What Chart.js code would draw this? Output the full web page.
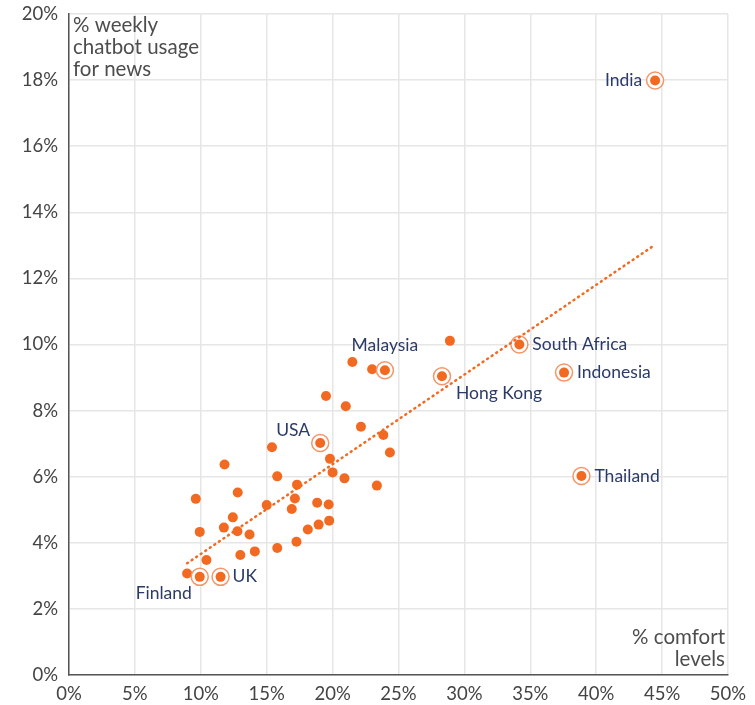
<!DOCTYPE html>
<html>
<head>
<meta charset="utf-8">
<script src="https://cdn.jsdelivr.net/npm/chart.js@4"></script>
<style>
  html, body { margin: 0; padding: 0; background: #fff; }
  #wrap { width: 755px; height: 705px; }
</style>
</head>
<body>
<div id="wrap"><canvas id="myChart"></canvas></div>
<script>
// comfort levels (x) vs weekly chatbot usage for news (y), in %
var otherX = [28.9, 23.0, 21.5, 19.5, 21.0, 22.15, 15.4, 23.85, 24.35, 19.8, 11.8, 20.0, 20.9, 15.8, 17.3, 23.36,
              9.62, 12.8, 17.14, 15.0, 18.83, 19.7, 16.9, 12.43, 9.92, 11.75, 12.78, 13.7, 19.74, 18.94, 18.12,
              17.26, 15.8, 14.1, 13.0, 10.43, 8.96];
var otherY = [10.11, 9.25, 9.47, 8.44, 8.13, 7.51, 6.89, 7.26, 6.73, 6.54, 6.37, 6.13, 5.95, 6.01, 5.76, 5.73,
              5.33, 5.52, 5.34, 5.14, 5.21, 5.16, 5.02, 4.77, 4.33, 4.46, 4.35, 4.25, 4.67, 4.55, 4.40,
              4.03, 3.84, 3.74, 3.63, 3.48, 3.07];

var countries = ["India", "Malaysia", "South Africa", "Indonesia", "Hong Kong", "Thailand", "USA", "UK", "Finland"];
var countryX  = [44.47, 23.97, 34.17, 37.56, 28.3, 38.88, 19.06, 11.5, 9.92];
var countryY  = [17.99, 9.22, 10.0, 9.15, 9.04, 6.02, 7.02, 2.97, 2.97];

var trendX = [8.96, 44.4];
var trendY = [3.38, 13.0];

var xTicks = [0, 5, 10, 15, 20, 25, 30, 35, 40, 45, 50];
var yTicks = [0, 2, 4, 6, 8, 10, 12, 14, 16, 18, 20];

var orange = "#f26a21";
var navy = "#2b3a67";

function pts(xs, ys) {
    var out = [];
    for (var i = 0; i < xs.length; i++) out.push({x: xs[i], y: ys[i]});
    return out;
}

// where each country name sits relative to its point
var labelPlace = {
    "India":        {dx: -13, dy: 0,   align: "right"},
    "Malaysia":     {dx: 0,   dy: -25, align: "center"},
    "South Africa": {dx: 13,  dy: 0,   align: "left"},
    "Indonesia":    {dx: 13,  dy: 0,   align: "left"},
    "Hong Kong":    {dx: 14,  dy: 17,  align: "left"},
    "Thailand":     {dx: 13,  dy: 0,   align: "left"},
    "USA":          {dx: -27, dy: -13, align: "center"},
    "UK":           {dx: 12,  dy: 0,   align: "left"},
    "Finland":      {dx: -36, dy: 17,  align: "center"}
};

var labelsPlugin = {
    id: "labels",
    afterDatasetsDraw: function (chart) {
        var ctx = chart.ctx;
        var xs = chart.scales.x, ys = chart.scales.y;
        ctx.save();
        ctx.font = "17.5px Lato";
        ctx.fillStyle = navy;
        ctx.textBaseline = "middle";
        for (var i = 0; i < countries.length; i++) {
            var p = labelPlace[countries[i]];
            ctx.textAlign = p.align;
            ctx.fillText(countries[i], xs.getPixelForValue(countryX[i]) + p.dx, ys.getPixelForValue(countryY[i]) + p.dy);
        }
        // axis titles inside the plot
        var a = chart.chartArea;
        ctx.font = "20.5px Lato";
        ctx.fillStyle = "#4d4d4d";
        ctx.textAlign = "left";
        ctx.fillText("% weekly", a.left + 4, a.top + 11);
        ctx.fillText("chatbot usage", a.left + 4, a.top + 33);
        ctx.fillText("for news", a.left + 4, a.top + 55);
        ctx.textAlign = "right";
        ctx.fillText("% comfort", a.right - 3, a.bottom - 38);
        ctx.fillText("levels", a.right - 3, a.bottom - 16);
        ctx.restore();
    }
};

var chart = new Chart("myChart", {
    type: "scatter",
    data: {
        datasets: [{
            data: pts(trendX, trendY),
            showLine: true,
            borderColor: orange,
            borderWidth: 2.5,
            borderDash: [1, 4.5],
            borderCapStyle: "round",
            pointRadius: 0,
            order: 0
        }, {
            data: pts(countryX, countryY),
            pointRadius: 5,
            backgroundColor: orange,
            borderColor: orange,
            borderWidth: 0,
            order: 1
        }, {
            data: pts(countryX, countryY),
            pointRadius: 8.5,
            backgroundColor: "#ffffff",
            borderColor: "#f5956a",
            borderWidth: 1.5,
            order: 2
        }, {
            data: pts(otherX, otherY),
            pointRadius: 5,
            backgroundColor: orange,
            borderWidth: 0,
            order: 3
        }]
    },
    options: {
        responsive: true,
        maintainAspectRatio: false,
        animation: false,
        layout: { padding: { top: 14, right: 27, left: 0, bottom: 0 } },
        plugins: { legend: { display: false }, tooltip: { enabled: false } },
        scales: {
            x: {
                min: 0, max: 50,
                afterFit: function (s) { s.height = 30; s.paddingLeft = 0; s.paddingRight = 0; },
                afterBuildTicks: function (s) { s.ticks = xTicks.map(function (v) { return {value: v}; }); },
                grid: { color: "#e6e6e6", lineWidth: 1.5, drawTicks: false },
                border: { color: "#555", width: 1.5 },
                ticks: {
                    padding: 8, color: "#444", font: { family: "Lato", size: 18.5 },
                    maxRotation: 0,
                    callback: function (v) { return v + "%"; }
                }
            },
            y: {
                min: 0, max: 20,
                afterFit: function (s) { s.width = 69; s.paddingTop = 0; s.paddingBottom = 0; },
                afterBuildTicks: function (s) { s.ticks = yTicks.map(function (v) { return {value: v}; }); },
                grid: { color: "#e6e6e6", lineWidth: 1.5, drawTicks: false },
                border: { color: "#555", width: 1.5 },
                ticks: {
                    padding: 11, color: "#444", font: { family: "Lato", size: 18.5 },
                    callback: function (v) { return v + "%"; }
                }
            }
        }
    },
    plugins: [labelsPlugin]
});
</script>
</body>
</html>
